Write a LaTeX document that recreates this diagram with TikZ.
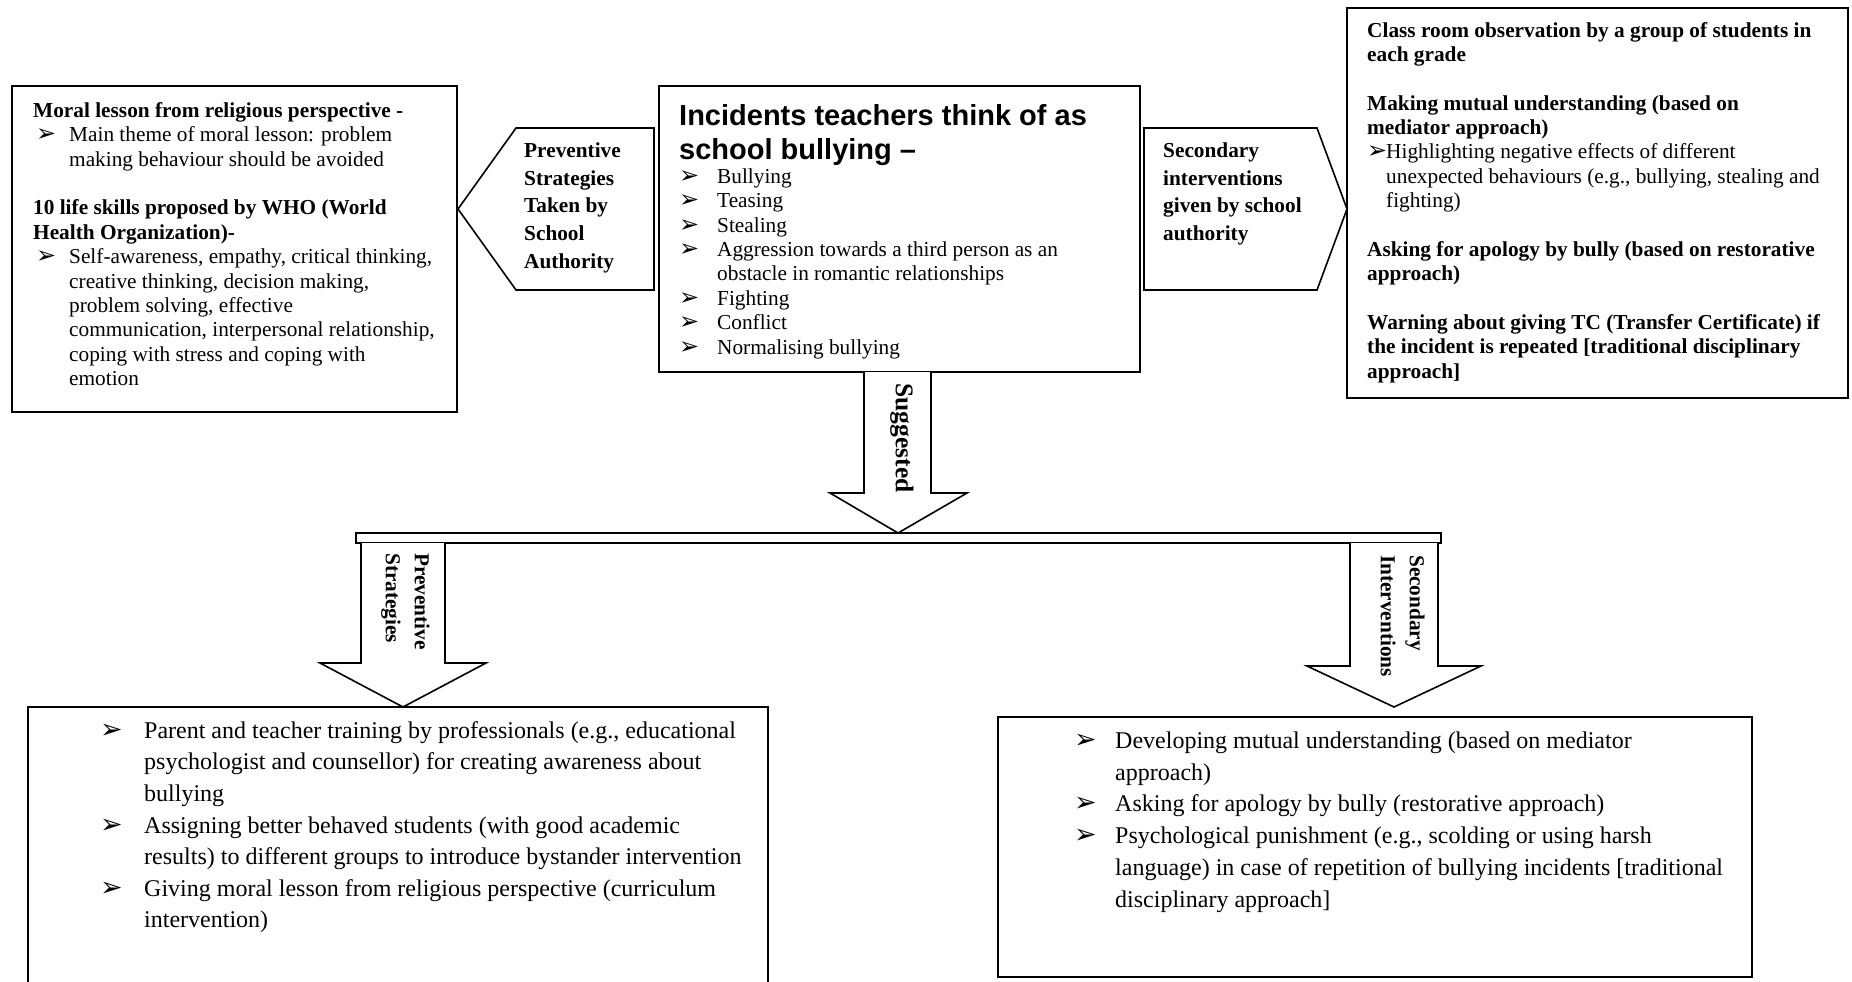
\documentclass[tikz,border=0pt]{standalone}
\usepackage{fontspec}
\setmainfont{Liberation Serif}
\newfontfamily\arialfont{Liberation Sans}
\newfontfamily\dejavufont{DejaVu Sans}
\newcommand\mybul{{\dejavufont\fontsize{24pt}{24pt}\selectfont ➢}}
\newcommand\mybigbul{{\dejavufont\fontsize{27pt}{27pt}\selectfont ➢}}
\newcommand\myb[2]{\makebox[#1][l]{\mybul}#2}
\newcommand\mybb[2]{\makebox[#1][l]{\mybigbul}#2}
\newcommand\myc[2]{\makebox[#1]{}#2}
\begin{document}
\begin{tikzpicture}[x=1pt,y=-1pt,
  box/.style={draw, line width=1.8pt, fill=white, inner sep=0pt},
  shp/.style={draw, line width=1.6pt, fill=white, line join=miter},
  txt/.style={anchor=north west, inner sep=0pt, align=left, font=\fontsize{21.3pt}{24.4pt}\selectfont},
  bigtxt/.style={anchor=north west, inner sep=0pt, align=left, font=\fontsize{24pt}{31.6pt}\selectfont},
  lbl/.style={anchor=north west, inner sep=0pt, align=left, font=\bfseries\fontsize{21.3pt}{27.8pt}\selectfont},
]
\useasboundingbox (0,0) rectangle (1852,982);
\clip (0,0) rectangle (1852,982);
\fill[white] (0,0) rectangle (1852,982);

% boxes
\node[box, minimum width=445pt, minimum height=326pt] (L) at (234.5,249) {};
\node[box, minimum width=481pt, minimum height=286pt] (C) at (899.5,229) {};
\node[box, minimum width=501pt, minimum height=390pt] (R) at (1597.5,203) {};
\node[box, minimum width=740pt, minimum height=300pt] (BL) at (398,857) {};
\node[box, minimum width=754pt, minimum height=260pt] (BR) at (1375,847) {};

% pentagons
\draw[shp] (458,209) coordinate (LPtip) -- (516,128) -- (654,128) -- (654,290) -- (516,290) -- cycle;
\draw[shp] (1144,128) -- (1317,128) -- (1347,209) coordinate (RPtip) -- (1317,290) -- (1144,290) -- cycle;

% suggested arrow
\draw[shp] (864,372) -- (864,493) -- (830,493) -- (898,533) -- (967,493) -- (931,493) -- (931,372);

% bar
\draw[line width=1.4pt, fill=white] (356,533) rectangle (1441,543);
\draw[line width=2.6pt] (356,533) -- (1441,533);

% down arrows
\draw[shp] (361,543) -- (361,663) -- (320,663) -- (403,707) -- (486,663) -- (445,663) -- (445,543);
\draw[shp] (1350,543) -- (1350,666) -- (1307,666) -- (1394,707) -- (1481,666) -- (1438,666) -- (1438,543);

% left box text
\node[txt] (Lt) at (33,100) {\rule{0pt}{17pt}\textbf{Moral lesson from religious perspective -}\\
\hspace*{3pt}\myb{33pt}{Main theme of moral lesson: problem}\\
\myc{36pt}{making behaviour should be avoided}\\[24.4pt]
\textbf{10 life skills proposed by WHO (World}\\
\textbf{Health Organization)-}\\
\hspace*{3pt}\myb{33pt}{Self-awareness, empathy, critical thinking,}\\
\myc{36pt}{creative thinking, decision making,}\\
\myc{36pt}{problem solving, effective}\\
\myc{36pt}{communication, interpersonal relationship,}\\
\myc{36pt}{coping with stress and coping with}\\
\myc{36pt}{emotion}};

% center title and bullets
\node[anchor=north west, inner sep=0pt, align=left, font=\arialfont\bfseries\fontsize{29pt}{34pt}\selectfont] (Ct) at (679,101) {\rule{0pt}{24pt}Incidents teachers think of as\\school bullying –};
\node[txt] (Cb) at (679,166) {\rule{0pt}{17pt}\myb{38pt}{Bullying}\\
\myb{38pt}{Teasing}\\
\myb{38pt}{Stealing}\\
\myb{38pt}{Aggression towards a third person as an}\\
\myc{38pt}{obstacle in romantic relationships}\\
\myb{38pt}{Fighting}\\
\myb{38pt}{Conflict}\\
\myb{38pt}{Normalising bullying}};

% right box text
\node[txt, font=\fontsize{21.3pt}{24.35pt}\selectfont] (Rt) at (1367,20) {\rule{0pt}{17pt}\textbf{Class room observation by a group of students in}\\
\textbf{each grade}\\[24.35pt]
\textbf{Making mutual understanding (based on}\\
\textbf{mediator approach)}\\
\myb{19pt}{Highlighting negative effects of different}\\
\myc{19pt}{unexpected behaviours (e.g., bullying, stealing and}\\
\myc{19pt}{fighting)}\\[24.35pt]
\textbf{Asking for apology by bully (based on restorative}\\
\textbf{approach)}\\[24.35pt]
\textbf{Warning about giving TC (Transfer Certificate) if}\\
\textbf{the incident is repeated [traditional disciplinary}\\
\textbf{approach]}};

% pentagon labels
\node[lbl] (LPt) at (524,140) {\rule{0pt}{17pt}Preventive\\Strategies\\Taken by\\School\\Authority};
\node[lbl] (RPt) at (1163,140) {\rule{0pt}{17pt}Secondary\\interventions\\given by school\\authority};

% rotated labels
\node[inner sep=0pt, rotate=-90, font=\bfseries\fontsize{25.5pt}{28pt}\selectfont] (sug) at (902,438) {Suggested};
\node[lbl, font=\bfseries\fontsize{21.3pt}{29pt}\selectfont, rotate=-90] (PS) at (432,553) {\rule{0pt}{17pt}Preventive\\Strategies};
\node[lbl, font=\bfseries\fontsize{21.3pt}{29pt}\selectfont, rotate=-90] (SI) at (1427,555) {\rule{0pt}{17pt}Secondary\\Interventions};

% bottom texts
\node[bigtxt] (BLt) at (100,719) {\rule{0pt}{19pt}\mybb{44pt}{Parent and teacher training by professionals (e.g., educational}\\
\myc{44pt}{psychologist and counsellor) for creating awareness about}\\
\myc{44pt}{bullying}\\
\mybb{44pt}{Assigning better behaved students (with good academic}\\
\myc{44pt}{results) to different groups to introduce bystander intervention}\\
\mybb{44pt}{Giving moral lesson from religious perspective (curriculum}\\
\myc{44pt}{intervention)}};
\node[bigtxt, font=\fontsize{24pt}{31.8pt}\selectfont] (BRt) at (1074,729) {\rule{0pt}{19pt}\mybb{41pt}{Developing mutual understanding (based on mediator}\\
\myc{41pt}{approach)}\\
\mybb{41pt}{Asking for apology by bully (restorative approach)}\\
\mybb{41pt}{Psychological punishment (e.g., scolding or using harsh}\\
\myc{41pt}{language) in case of repetition of bullying incidents [traditional}\\
\myc{41pt}{disciplinary approach]}};
\end{tikzpicture}
\end{document}
